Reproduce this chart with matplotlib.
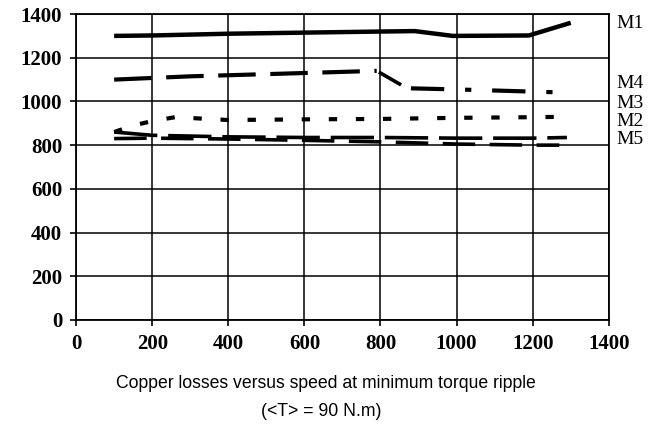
import matplotlib
matplotlib.use("Agg")
import matplotlib.pyplot as plt

# speed (rpm) and copper losses (W)
m1_x = [100, 200, 400, 600, 800, 890, 990, 1190, 1300]
m1_y = [1300, 1302, 1310, 1315, 1320, 1322, 1300, 1302, 1360]

m4_x = [100, 300, 500, 790]
m4_y = [1100, 1115, 1125, 1140]
m4_drop_x = [800, 850]
m4_drop_y = [1130, 1080]
m4_tail_x = [880, 1000, 1100, 1200, 1300]
m4_tail_y = [1060, 1055, 1050, 1045, 1040]

m3_x = [100, 150, 200, 260, 400, 600, 800, 1000, 1200, 1300]
m3_y = [860, 890, 910, 928, 915, 918, 920, 925, 928, 930]

m2_x = [100, 200, 400, 600, 800, 1000, 1200, 1290]
m2_y = [860, 845, 838, 835, 835, 832, 832, 835]

m5_x = [100, 200, 400, 600, 800, 1000, 1200, 1270]
m5_y = [830, 832, 828, 822, 815, 805, 800, 800]

labels = ["M1", "M4", "M3", "M2", "M5"]
label_y = [1355, 1082, 991, 909, 827]

xticks = [0, 200, 400, 600, 800, 1000, 1200, 1400]
yticks = [0, 200, 400, 600, 800, 1000, 1200, 1400]

serif = ["Liberation Serif", "DejaVu Serif"]
sans = ["Liberation Sans", "DejaVu Sans"]

fig = plt.figure(figsize=(6.56, 4.26), dpi=100)
ax = fig.add_axes([0.116, 0.249, 0.812, 0.718])

ax.plot(m1_x, m1_y, color="black", lw=3.2, solid_capstyle="butt")
ax.plot(m4_x, m4_y, color="black", lw=3.0, dashes=(9, 3.5))
ax.plot(m4_drop_x, m4_drop_y, color="black", lw=2.6)
ax.plot(m4_tail_x, m4_tail_y, color="black", lw=3.0, dashes=(8, 5, 1.5, 5))
ax.plot(m3_x, m3_y, color="black", lw=3.0, dashes=(2, 4.5))
ax.plot(m2_x, m2_y, color="black", lw=2.6, dashes=(12, 3))
ax.plot(m5_x, m5_y, color="black", lw=2.6, dashes=(9, 4))

ax.set_xlim(0, 1400)
ax.set_ylim(0, 1400)
ax.set_xticks(xticks)
ax.set_yticks(yticks)
ax.grid(True, color="black", lw=1.1)
for s in ax.spines.values():
    s.set_color("black")
    s.set_linewidth(1.3)
ax.tick_params(direction="out", length=4, width=1.2, color="black", pad=6)
for t in ax.get_xticklabels() + ax.get_yticklabels():
    t.set_fontfamily(serif)
    t.set_fontsize(15)
    t.set_fontweight("bold")

for lab, yv in zip(labels, label_y):
    ax.text(1420, yv, lab, fontsize=14, family=serif, va="center", ha="left",
            clip_on=False)

fig.text(0.497, 0.1, "Copper losses versus speed at minimum torque ripple",
         ha="center", va="center", fontsize=12.7, family=sans)
fig.text(0.49, 0.035, "(<T> = 90 N.m)", ha="center", va="center",
         fontsize=12.7, family=sans)

fig.savefig("out.png", dpi=100)
